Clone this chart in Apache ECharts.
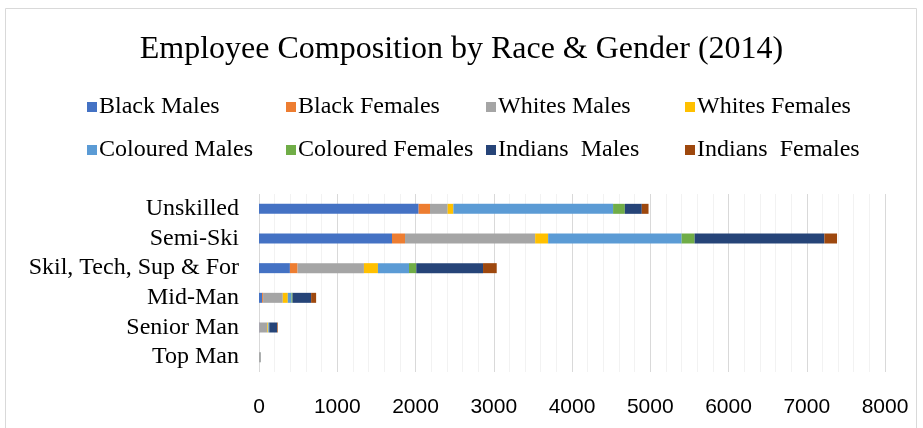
<!DOCTYPE html>
<html>
<head>
<meta charset="utf-8">
<script src="https://cdn.jsdelivr.net/npm/echarts@6/dist/echarts.min.js"></script>
<style>html,body{margin:0;padding:0;background:#fff}#c{width:923px;height:428px}</style>
</head>
<body>
<div id="c"></div>
<script>
const categories = ["Unskilled", "Semi-Ski", "Skil, Tech, Sup & For", "Mid-Man", "Senior Man", "Top Man"];
const seriesNames = ["Black Males", "Black Females", "Whites Males", "Whites Females", "Coloured Males", "Coloured Females", "Indians  Males", "Indians  Females"];
const blackMales      = [2040, 1700, 395, 40, 5, 1];
const blackFemales    = [145, 166, 98, 12, 2, 0];
const whitesMales     = [226, 1663, 848, 252, 100, 18];
const whitesFemales   = [73, 166, 179, 64, 12, 1];
const colouredMales   = [2041, 1706, 397, 47, 9, 0];
const colouredFemales = [150, 166, 93, 13, 3, 0];
const indiansMales    = [217, 1658, 853, 238, 100, 3];
const indiansFemales  = [86, 162, 175, 64, 8, 0];
const xTicks = [0, 1000, 2000, 3000, 4000, 5000, 6000, 7000, 8000];

const values = [blackMales, blackFemales, whitesMales, whitesFemales, colouredMales, colouredFemales, indiansMales, indiansFemales];
const colors = ["#4472C4", "#ED7D31", "#A5A5A5", "#FFC000", "#5B9BD5", "#70AD47", "#264478", "#9E480E"];

const chart = echarts.init(document.getElementById('c'));
const legendLefts = [82, 281, 481, 680];
const legendTops = [90, 133];
const legends = seriesNames.map((n, i) => ({
  left: legendLefts[i % 4], top: legendTops[Math.floor(i / 4)], data: [n],
  itemWidth: 10, itemHeight: 10, icon: 'rect',
  textStyle: { fontFamily: 'Liberation Serif', fontSize: 24, color: '#000', padding: [0, 0, 0, -3] }
}));
chart.setOption({
  animation: false,
  graphic: [{ type: 'rect', shape: { x: 5.5, y: 8.5, width: 911, height: 440 }, style: { fill: 'none', stroke: '#d9d9d9', lineWidth: 1 }, z: -1 }],
  title: {
    text: 'Employee Composition by Race & Gender (2014)', left: 'center', top: 29,
    textStyle: { fontFamily: 'Liberation Serif', fontSize: 32, fontWeight: 'normal', color: '#000' }
  },
  legend: legends,
  grid: { left: 259, right: 38, top: 194, bottom: 56, containLabel: false },
  xAxis: {
    type: 'value', min: xTicks[0], max: xTicks[xTicks.length - 1], interval: 1000,
    axisLine: { show: false }, axisTick: { show: false },
    axisLabel: { margin: 25, fontFamily: 'Liberation Sans', fontSize: 21, color: '#000', formatter: v => String(v) },
    splitLine: { show: true, lineStyle: { color: '#d9d9d9', width: 1 } },
    minorTick: { show: false, splitNumber: 5 },
    minorSplitLine: { show: true, lineStyle: { color: '#f2f2f2', width: 1 } }
  },
  yAxis: {
    type: 'category', data: categories, inverse: true,
    axisLine: { show: false }, axisTick: { show: false },
    axisLabel: { interval: 0, margin: 20, fontFamily: 'Liberation Serif', fontSize: 24, color: '#000' }
  },
  series: seriesNames.map((n, i) => ({
    name: n, type: 'bar', stack: 'total', data: values[i], barWidth: 10,
    itemStyle: { color: colors[i] }
  }))
});
</script>
</body>
</html>
